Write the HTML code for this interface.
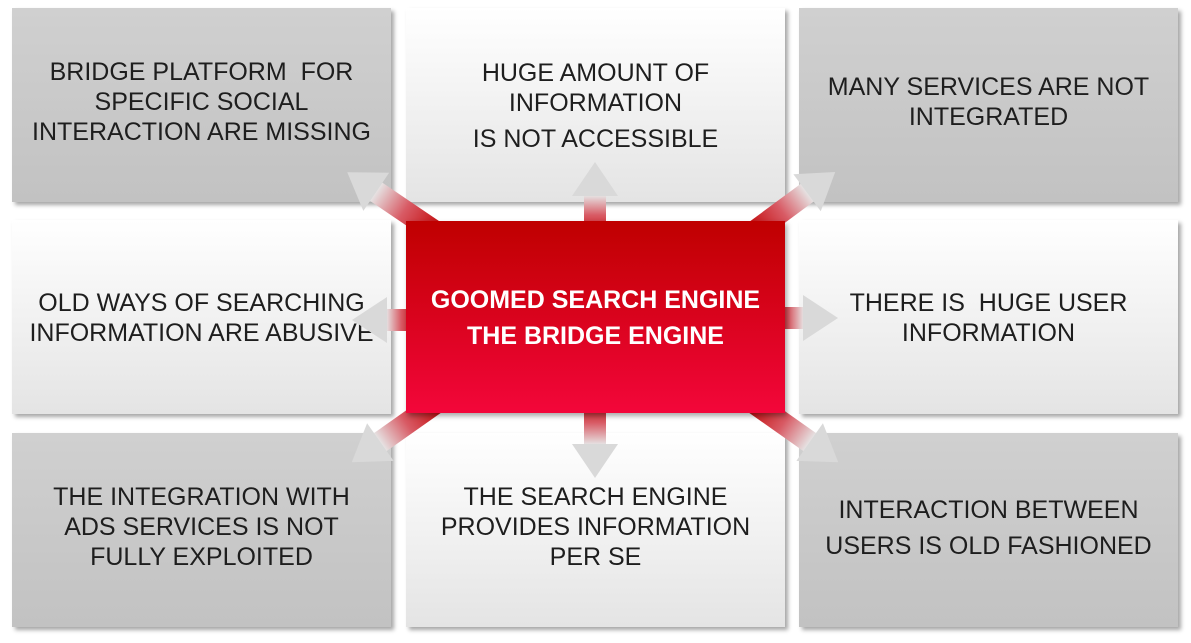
<!DOCTYPE html>
<html><head><style>
body{margin:0;width:1191px;height:643px;background:#fff;position:relative;overflow:hidden;font-family:"Liberation Sans",sans-serif}
.b{position:absolute;width:379px;height:194px;box-shadow:3px 3px 4px rgba(0,0,0,.35);display:flex;align-items:center;justify-content:center;text-align:center;font-size:25px;line-height:30px;color:#1e1e1e;white-space:nowrap}
.g{background:linear-gradient(#d0d0d0,#c2c2c2)}
.w{background:linear-gradient(#fff,#e4e4e4)}
.c{background:linear-gradient(#bf0000,#f3063a);color:#fff;font-weight:bold;font-size:25px;line-height:36px;z-index:3;box-shadow:2px 3px 5px rgba(0,0,0,.35)}
svg{position:absolute;left:0;top:0;z-index:2}
</style></head><body>
<div class="b g" style="left:12px;top:8px"><div style="margin-top:-6px">BRIDGE PLATFORM &nbsp;FOR<br>SPECIFIC SOCIAL<br>INTERACTION ARE MISSING</div></div>
<div class="b w" style="left:406px;top:8px"><div style="margin-top:2px">HUGE AMOUNT OF<br>INFORMATION<br><span style="display:inline-block;margin-top:6px">IS NOT ACCESSIBLE</span></div></div>
<div class="b g" style="left:799px;top:8px"><div style="margin-top:-6px">MANY SERVICES ARE NOT<br>INTEGRATED</div></div>
<div class="b w" style="left:12px;top:220px"><div style="margin-top:2px">OLD WAYS OF SEARCHING<br>INFORMATION ARE ABUSIVE</div></div>
<div class="b w" style="left:799px;top:220px"><div style="margin-top:2px">THERE IS &nbsp;HUGE USER<br>INFORMATION</div></div>
<div class="b g" style="left:12px;top:433px"><div style="margin-top:-6px">THE INTEGRATION WITH<br>ADS SERVICES IS NOT<br>FULLY EXPLOITED</div></div>
<div class="b w" style="left:406px;top:433px"><div style="margin-top:-6px">THE SEARCH ENGINE<br>PROVIDES INFORMATION<br>PER SE</div></div>
<div class="b g" style="left:799px;top:433px"><div style="margin-top:-5px;line-height:36px">INTERACTION BETWEEN<br>USERS IS OLD FASHIONED</div></div>
<div class="b c" style="left:406px;top:221px;height:192px"><div style="margin-top:2px">GOOMED SEARCH ENGINE<br>THE BRIDGE ENGINE</div></div>
<svg width="1191" height="643">
<defs><linearGradient id="gr" x1="0" x2="1" y1="0" y2="0"><stop offset="0" stop-color="#c00000"/><stop offset=".55" stop-color="#d85a64"/><stop offset="1" stop-color="#e6e6e6"/></linearGradient></defs>
<g>
<g transform="translate(595,240) rotate(-90)"><rect x="0" y="-11" width="45" height="22" fill="url(#gr)"/><polygon points="44,-23 78,0 44,23" fill="#d9d9d9"/></g>
<g transform="translate(595,395) rotate(90)"><rect x="0" y="-11" width="50" height="22" fill="url(#gr)"/><polygon points="49,-23 83,0 49,23" fill="#d9d9d9"/></g>
<g transform="translate(420,320) rotate(180)"><rect x="0" y="-11" width="34" height="22" fill="url(#gr)"/><polygon points="33,-23 68,0 33,23" fill="#d9d9d9"/></g>
<g transform="translate(770,318)"><rect x="0" y="-11" width="34" height="22" fill="url(#gr)"/><polygon points="33,-23 68,0 33,23" fill="#d9d9d9"/></g>
<g transform="translate(440,235) rotate(-145.9)"><rect x="0" y="-11" width="78" height="22" fill="url(#gr)"/><polygon points="77,-23 112,0 77,23" fill="#d9d9d9"/></g>
<g transform="translate(750,235) rotate(-36.5)"><rect x="0" y="-11" width="72" height="22" fill="url(#gr)"/><polygon points="71,-23 106,0 71,23" fill="#d9d9d9"/></g>
<g transform="translate(440,400) rotate(144.8)"><rect x="0" y="-11" width="74" height="22" fill="url(#gr)"/><polygon points="73,-23 108,0 73,23" fill="#d9d9d9"/></g>
<g transform="translate(750,400) rotate(35.2)"><rect x="0" y="-11" width="74" height="22" fill="url(#gr)"/><polygon points="73,-23 108,0 73,23" fill="#d9d9d9"/></g>
</g>
</svg>
</body></html>
